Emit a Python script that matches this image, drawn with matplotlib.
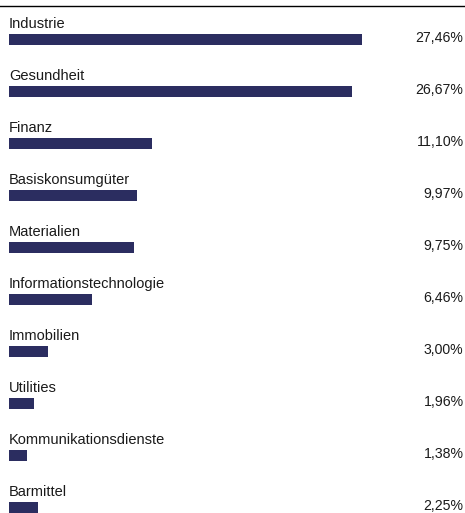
import matplotlib.pyplot as plt

# Sector weights (German labels, values in %)
categories = ['Industrie', 'Gesundheit', 'Finanz', 'Basiskonsumgüter', 'Materialien',
              'Informationstechnologie', 'Immobilien', 'Utilities',
              'Kommunikationsdienste', 'Barmittel']
values = [27.46, 26.67, 11.10, 9.97, 9.75, 6.46, 3.00, 1.96, 1.38, 2.25]
value_labels = ['27,46%', '26,67%', '11,10%', '9,97%', '9,75%',
                '6,46%', '3,00%', '1,96%', '1,38%', '2,25%']

W, H = 465, 513
px_per_pct = 12.85
left_px = 9
pitch = 52.0
first_center = 39.3

plt.rcParams['font.family'] = ['Liberation Sans', 'DejaVu Sans']

fig = plt.figure(figsize=(W / 100, H / 100), dpi=100)
ax = fig.add_axes([0, 0, 1, 1])
ax.set_xlim(-left_px / px_per_pct, (W - left_px) / px_per_pct)
ax.set_ylim((H - first_center) / pitch, -first_center / pitch)
ax.axis('off')

rows = range(len(categories))
ax.barh(list(rows), values, height=11 / pitch, left=0, color='#2b2d60')

for i, (name, lab) in enumerate(zip(categories, value_labels)):
    ax.text(0, i - 0.22, name, fontsize=10.5, color='#1a1a1a', va='baseline', ha='left')
    ax.text(463.5 / W, i - 0.02, lab, fontsize=10.2, color='#1a1a1a', va='center', ha='right',
            transform=ax.get_yaxis_transform())

# thin rule at the top
ax.axhline(-(first_center - 6.5) / pitch, color='black', lw=1.0)

fig.savefig('out.png', dpi=100)
